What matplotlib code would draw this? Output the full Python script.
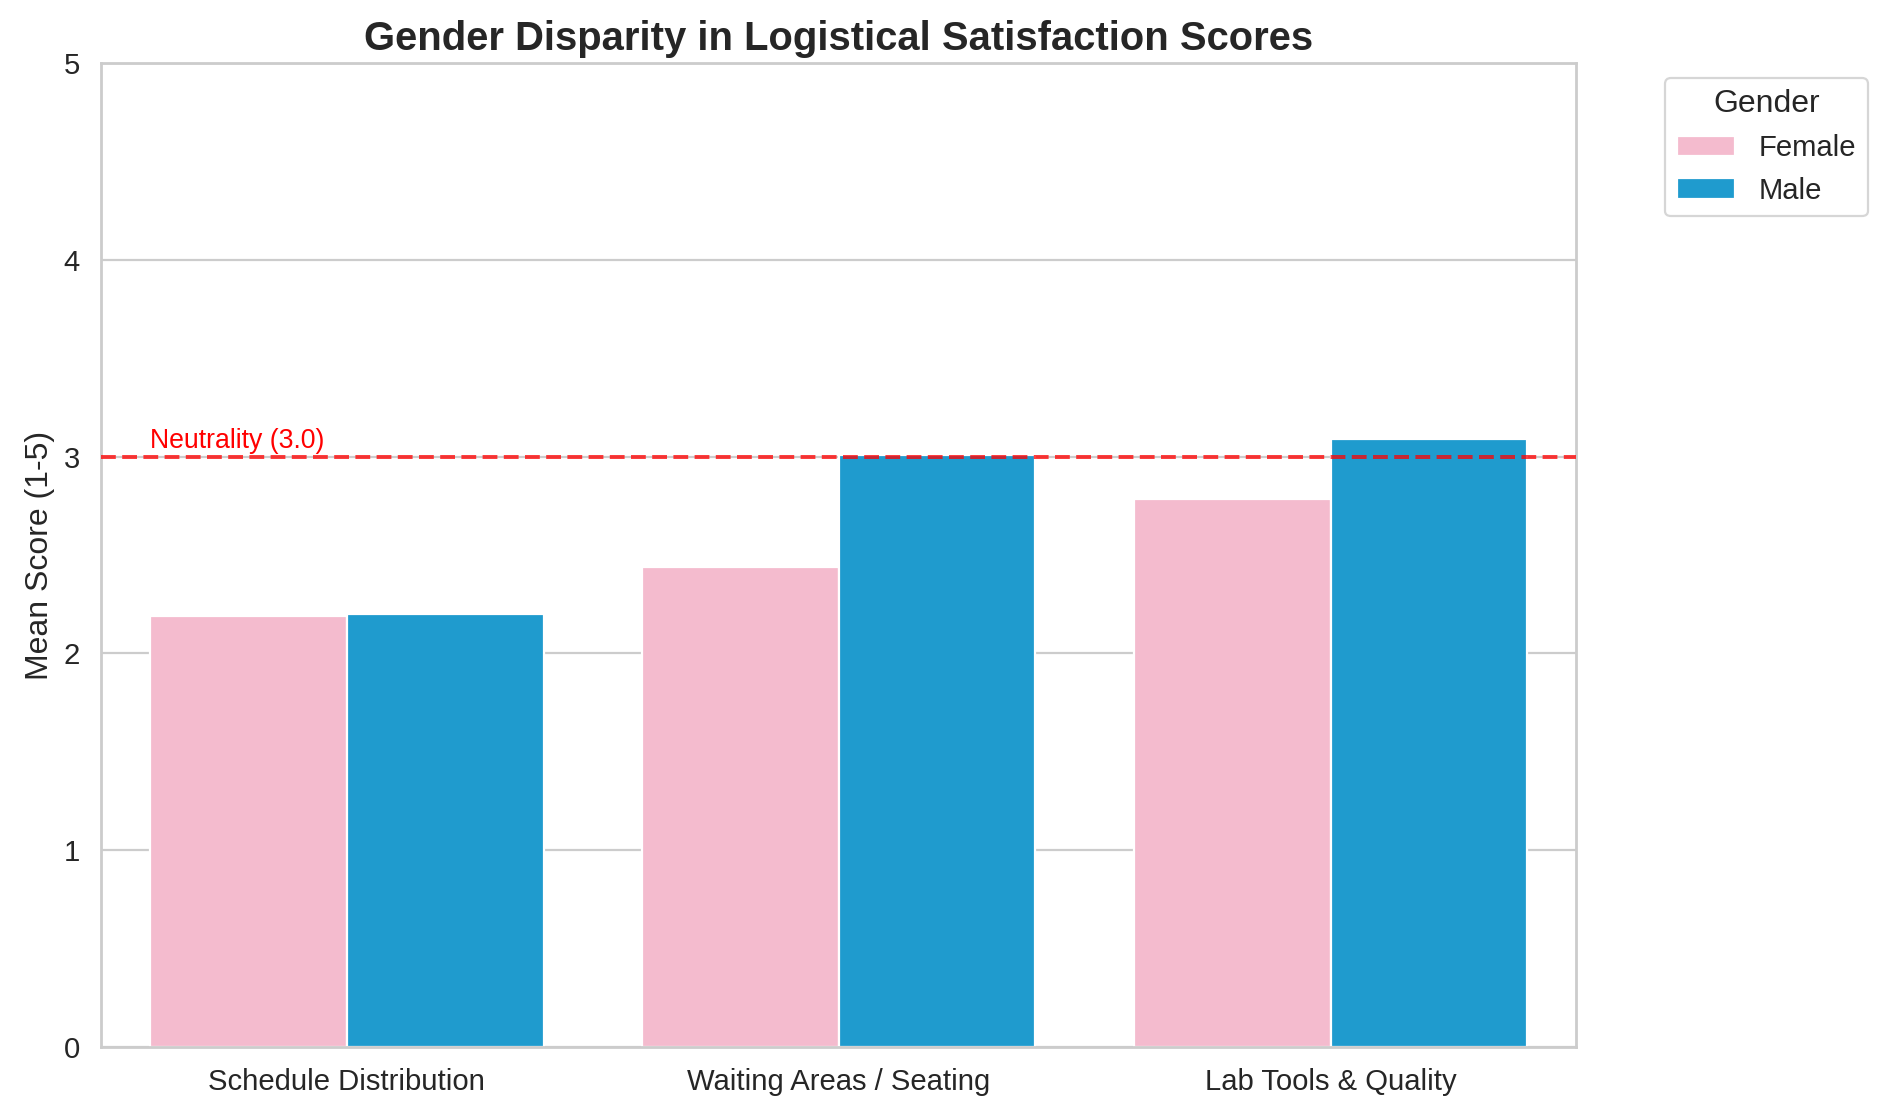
import matplotlib
matplotlib.use("Agg")
import matplotlib.pyplot as plt
import numpy as np
import seaborn as sns

# Mean scores
categories = ["Schedule Distribution", "Waiting Areas / Seating", "Lab Tools & Quality"]
female_scores = [2.19, 2.44, 2.785]
male_scores = [2.20, 3.01, 3.09]
neutral_score = 3.0

sns.set_theme(style="whitegrid", font_scale=1.2)
plt.rcParams['font.family'] = ['Liberation Sans', 'DejaVu Sans']

DPI = 160
fig, ax = plt.subplots(figsize=(1888 / DPI, 1119 / DPI), dpi=DPI)
fig.subplots_adjust(left=0.0535, right=0.835, top=0.9437, bottom=0.0643)

x = np.arange(len(categories))
bar_w = 0.4
ax.bar(x - bar_w / 2, female_scores, width=bar_w, color="#F4BBCE",
       edgecolor="white", linewidth=1, label="Female", zorder=2)
ax.bar(x + bar_w / 2, male_scores, width=bar_w, color="#1F9BCE",
       edgecolor="white", linewidth=1, label="Male", zorder=2)

# linha de neutralidade
ax.axhline(neutral_score, color="red", linestyle="--", linewidth=1.8, alpha=0.75, zorder=3)
ax.text(-0.4, neutral_score + 0.045, "Neutrality (3.0)", color="red", fontsize=12)

ax.set_xticks(x)
ax.set_xticklabels(categories)
ax.set_xlim(-0.5, len(categories) - 0.5)
ax.set_ylim(0, 5)
ax.xaxis.grid(False)
ax.set_ylabel("Mean Score (1-5)")
ax.set_title("Gender Disparity in Logistical Satisfaction Scores", fontsize=18, fontweight="bold")
ax.legend(title="Gender", bbox_to_anchor=(1.05, 1), loc="upper left")

fig.savefig("out.png", dpi=DPI)
